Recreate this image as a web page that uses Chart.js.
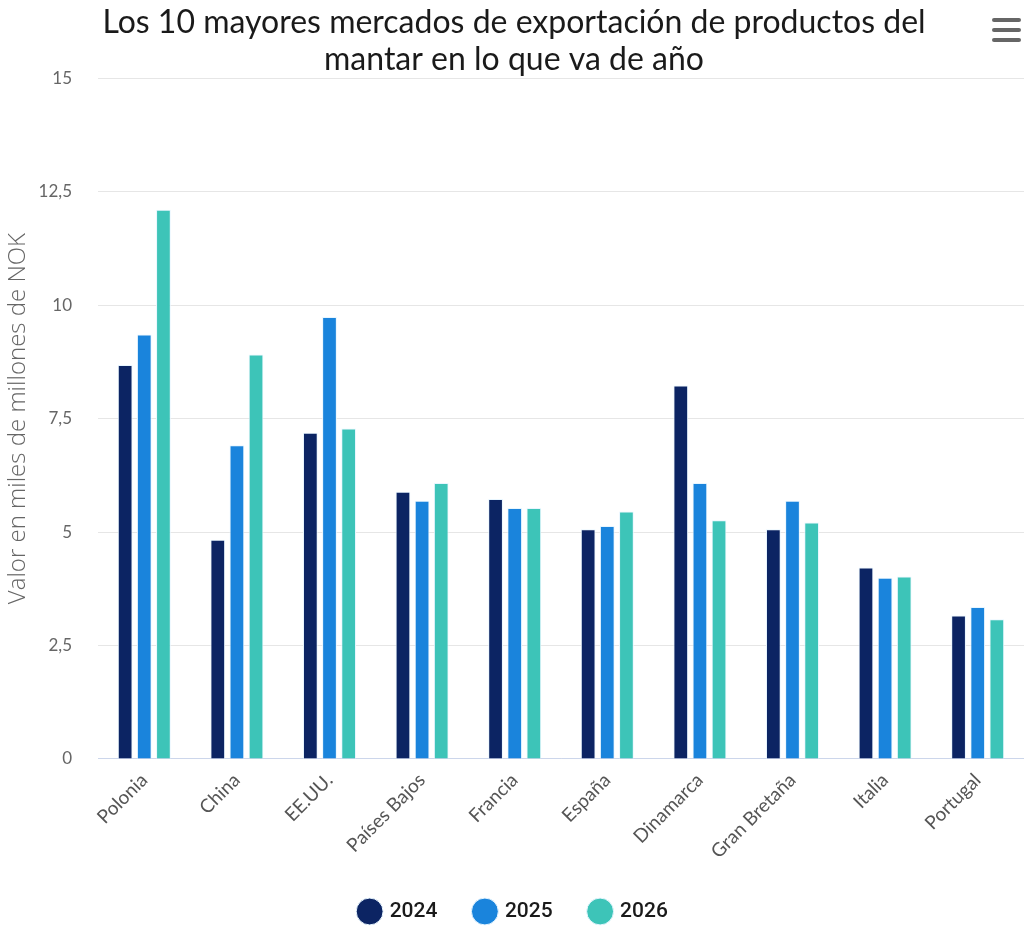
<!DOCTYPE html>
<html>
<head>
<meta charset="utf-8">
<script src="https://cdn.jsdelivr.net/npm/chart.js@4"></script>
<style>
  html, body { margin: 0; padding: 0; background: #fff; }
  #wrap { position: relative; width: 1024px; height: 938px; }
  #menu { position: absolute; left: 992px; top: 18px; width: 29px; }
  #menu div { height: 4px; background: #666; border-radius: 2px; margin-bottom: 6px; }
</style>
</head>
<body>
<div id="wrap">
  <canvas id="grafico" width="1024" height="938"></canvas>
  <div id="menu"><div></div><div></div><div></div></div>
</div>
<script>
const mercados = ["Polonia", "China", "EE.UU.", "Países Bajos", "Francia", "España", "Dinamarca", "Gran Bretaña", "Italia", "Portugal"];
const anios = ["2024", "2025", "2026"];
const valores2024 = [8.68, 4.83, 7.19, 5.89, 5.73, 5.06, 8.23, 5.06, 4.22, 3.16];
const valores2025 = [9.35, 6.91, 9.74, 5.69, 5.53, 5.13, 6.08, 5.69, 3.99, 3.35];
const valores2026 = [12.1, 8.91, 7.28, 6.08, 5.53, 5.45, 5.26, 5.21, 4.02, 3.08];
const colores = ["#0c2463", "#1a84dc", "#3dc4b8"];
const ticksY = [0, 2.5, 5, 7.5, 10, 12.5, 15];

const series = [valores2024, valores2025, valores2026];

const ctx = document.getElementById("grafico").getContext("2d");
new Chart(ctx, {
  type: "bar",
  data: {
    labels: mercados,
    datasets: series.map((d, i) => ({
      label: anios[i],
      data: d,
      backgroundColor: colores[i],
      borderColor: "#e8f6ff",
      borderWidth: 1,
      categoryPercentage: 0.62,
      barPercentage: 0.77
    }))
  },
  options: {
    responsive: false,
    animation: false,
    layout: { padding: { top: 0, right: 0, bottom: 6, left: 4 } },
    plugins: {
      title: {
        display: true,
        text: ["Los 10 mayores mercados de exportación de productos del", "mantar en lo que va de año"],
        color: "#1a1a1a",
        font: { family: "Lato", size: 32, weight: "normal", lineHeight: 1.16 },
        padding: { top: 4, bottom: 0 }
      },
      legend: {
        position: "bottom",
        labels: {
          usePointStyle: true,
          pointStyle: "circle",
          boxWidth: 19,
          boxHeight: 19,
          padding: 38,
          color: "#1a1a1a",
          font: { family: "Roboto", size: 21, weight: 500 }
        }
      },
      tooltip: { enabled: false }
    },
    scales: {
      x: {
        grid: { display: false, drawTicks: false },
        border: { color: "#ccd6eb" },
        ticks: {
          color: "#555",
          font: { family: "Lato", size: 19 },
          maxRotation: 45,
          minRotation: 45,
          padding: 10
        },
        afterFit: axis => { axis.height -= 10; }
      },
      y: {
        min: 0,
        max: 15,
        afterBuildTicks: axis => { axis.ticks = ticksY.map(v => ({ value: v })); },
        afterFit: axis => { axis.width = 94; },
        grid: { color: "#e6e6e6", drawTicks: false },
        border: { display: false },
        ticks: {
          color: "#666",
          font: { family: "Lato", size: 17 },
          padding: 26,
          callback: v => String(v).replace(".", ",")
        },
        title: {
          display: true,
          text: "Valor en miles de millones de NOK",
          color: "#666",
          font: { family: "Open Sans", size: 24, weight: 300 },
          padding: { top: 0, bottom: 4 }
        }
      }
    }
  }
});
</script>
</body>
</html>
